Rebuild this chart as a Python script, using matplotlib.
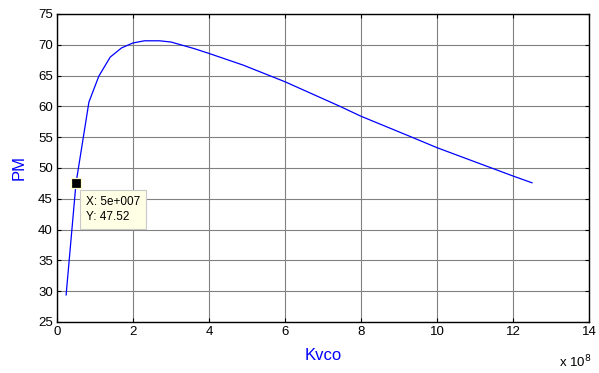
import matplotlib
matplotlib.use("Agg")
import matplotlib.pyplot as plt
import numpy as np

plt.rcParams['font.family'] = ['Liberation Sans', 'DejaVu Sans']

# Kvco (in units of 1e8) and phase margin PM (deg)
kvco = [0.24, 0.5, 0.84, 1.1, 1.4, 1.7, 2.0, 2.3, 2.7, 3.0, 3.6, 4.0, 4.9,
        6.0, 7.45, 8.0, 9.3, 10.0, 12.0, 12.5]
pm = [29.4, 47.52, 60.7, 64.9, 68.0, 69.5, 70.3, 70.65, 70.65, 70.45, 69.4,
      68.6, 66.7, 64.0, 60.0, 58.4, 55.1, 53.3, 48.7, 47.6]

tip_x = 0.5
tip_y = 47.52
tip_text = "X: 5e+007\nY: 47.52"

xticks = [0, 2, 4, 6, 8, 10, 12, 14]
yticks = [25, 30, 35, 40, 45, 50, 55, 60, 65, 70, 75]

fig = plt.figure(figsize=(5.99, 3.73), dpi=100)
ax = fig.add_axes([57/599, 1-322/373, (589-57)/599, (322-14)/373])

ax.plot(kvco, pm, color='#0000ff', lw=0.9)
ax.plot([tip_x], [tip_y], marker='s', ms=6.5, color='black',
        markeredgecolor='#ffffc8', markeredgewidth=0.9, zorder=5)

ax.set_xlim(0, 14)
ax.set_ylim(25, 75)
ax.set_xticks(xticks)
ax.set_yticks(yticks)
ax.tick_params(direction='in', length=3, width=0.8, top=True, right=True,
               labelsize=9.5, pad=3, colors='black')
ax.grid(True, color='0.5', lw=0.8)
for s in ax.spines.values():
    s.set_linewidth(1.0)
    s.set_color('black')

ax.set_xlabel('Kvco', color='#0000ff', fontsize=12, labelpad=7)
ax.set_ylabel('PM', color='#0000ff', fontsize=12, labelpad=8)

fig.text(559/599, 1-362/373, r'x 10$^{8}$', fontsize=9.5, ha='left', va='center')

ax.text(0.76, 43.3, tip_text, fontsize=8.5, va='center', ha='left',
        linespacing=1.3,
        bbox=dict(boxstyle='square,pad=0.5', fc='#ffffe6', ec='#c8c8c8', lw=0.8),
        zorder=6)

fig.savefig('out.png', dpi=100, facecolor='white')
